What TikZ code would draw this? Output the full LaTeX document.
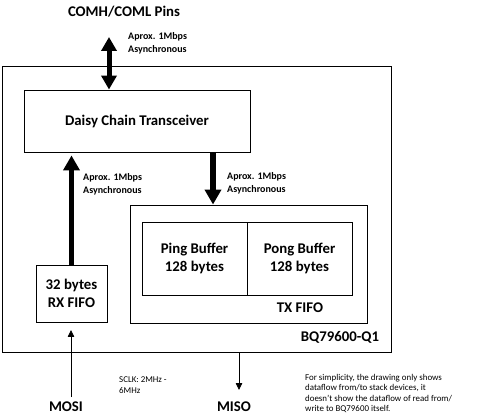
\documentclass[tikz,border=0pt]{standalone}
\usepackage{fontspec}
\setmainfont{Carlito}
\usetikzlibrary{arrows.meta}
\tikzset{
  box/.style={draw, line width=0.9pt, rectangle, inner sep=0pt, align=center},
  big/.style={font=\fontsize{14.8}{17.5}\selectfont\bfseries},
  small/.style={font=\fontsize{10}{13}\selectfont\bfseries, align=left, inner sep=0pt},
  note/.style={font=\fontsize{8.9}{10.3}\selectfont, align=left, inner sep=0pt},
  thick arrow/.style={line width=5.5pt, -{Triangle[width=16pt,length=15pt]}},
  thick darrow/.style={line width=5pt, {Triangle[width=15pt,length=14pt]}-{Triangle[width=15pt,length=14pt]}},
  thin arrow/.style={line width=0.8pt, -{Triangle[width=6.5pt,length=7pt]}}
}
\begin{document}
\begin{tikzpicture}[x=1pt,y=-1pt]
\useasboundingbox (0,0) rectangle (487,419);
% outer
\node[box, minimum width=389pt, minimum height=286pt] (outer) at (196.5,209) {};
\node[box, big, minimum width=226pt, minimum height=62pt] (dc) at (137,121) {Daisy Chain Transceiver};
\node[box, minimum width=237pt, minimum height=118pt] (tx) at (248.5,264) {};
\node[box, big, minimum width=105pt, minimum height=73pt] (ping) at (194.5,258.5) {Ping Buffer\\128 bytes};
\node[box, big, minimum width=105pt, minimum height=73pt] (pong) at (299.5,258.5) {Pong Buffer\\128 bytes};
\node[box, big, minimum width=71pt, minimum height=57pt] (rx) at (71.5,293.5) {32 bytes\\RX FIFO};
\node[big, inner sep=0pt] (txl) at (300,308) {TX FIFO};
\node[big, inner sep=0pt] (bq) at (340,337) {BQ79600-Q1};
\node[big, inner sep=0pt] (pins) at (124,12) {COMH/COML Pins};
\node[big, inner sep=0pt] (mosi) at (66,407) {MOSI};
\node[big, inner sep=0pt] (miso) at (234,407) {MISO};
% labels
\node[small, anchor=west] (l1) at (128,43.5) {Aprox. 1Mbps\\Asynchronous};
\node[small, anchor=west] (l2) at (227,183.5) {Aprox. 1Mbps\\Asynchronous};
\node[small, anchor=west] (l3) at (83,184.5) {Aprox. 1Mbps\\Asynchronous};
\node[note, anchor=west] (sclk) at (119,385) {SCLK: 2MHz -\\6MHz};
\node[note, anchor=west] (nt) at (305,393.5) {For simplicity, the drawing only shows\\dataflow from/to stack devices, it\\doesn’t show the dataflow of read from/\\write to BQ79600 itself.};
% coordinates
\coordinate (dtop) at (109,37);
\coordinate (mosibot) at (71,397);
\coordinate (mositip) at (71,330);
\coordinate (misotip) at (239,390);
% arrows
\draw[thick darrow] (dtop) -- (dtop |- dc.north);
\draw[thick arrow] (213,0 |- dc.south) -- (213,0 |- tx.north);
\draw[thick arrow] (rx.north) -- ([yshift=-3pt]rx.north |- dc.south);
\draw[thin arrow] (mosibot) -- (mositip);
\draw[thin arrow] (misotip |- outer.south) -- (misotip);
\end{tikzpicture}
\end{document}
